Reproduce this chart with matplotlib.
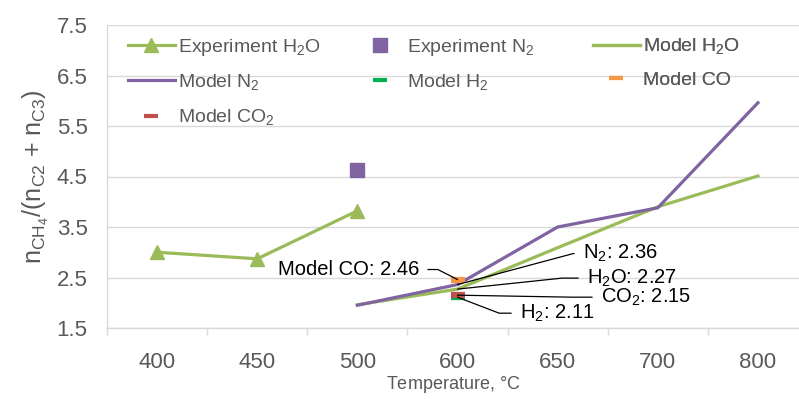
import numpy as np
import matplotlib
matplotlib.use("Agg")
import matplotlib.pyplot as plt
from matplotlib.ticker import FixedLocator

plt.rcParams['font.family'] = ['Liberation Sans', 'DejaVu Sans']
plt.rcParams['mathtext.fontset'] = 'custom'
plt.rcParams['mathtext.rm'] = 'Liberation Sans'

# Datos
temps = ['400', '450', '500', '600', '650', '700', '800']
exp_h2o = [3.00, 2.87, 3.82, None, None, None, None]
exp_n2 = [None, None, 4.63, None, None, None, None]
model_h2o = [None, None, 1.96, 2.27, 3.09, 3.90, 4.51]
model_n2 = [None, None, 1.95, 2.36, 3.50, 3.88, 5.96]
model_h2 = [None, None, None, 2.11, None, None, None]
model_co = [None, None, None, 2.46, None, None, None]
model_co2 = [None, None, None, 2.15, None, None, None]

verde = '#9BBB59'
morado = '#8064A2'
gris = '#595959'
rejilla = '#D9D9D9'

def serie(vals):
    return np.array([np.nan if v is None else v for v in vals], dtype=float)

x = np.arange(len(temps))

fig = plt.figure(figsize=(7.99, 3.99), dpi=100)
ax = fig.add_axes([107 / 799, 1 - 328 / 399, 692 / 799, 303 / 399])

l_exp_h2o, = ax.plot(x, serie(exp_h2o), color=verde, lw=2.3, marker='^', ms=10,
                     label=r'Experiment H$_2$O')
l_exp_n2, = ax.plot(x, serie(exp_n2), ls='none', color=morado, marker='s', ms=10,
                    label=r'Experiment N$_2$')
m = ~np.isnan(serie(model_h2o))
l_mod_h2o, = ax.plot(x[m], serie(model_h2o)[m], color=verde, lw=2.3, label=r'Model H$_2$O')
m = ~np.isnan(serie(model_n2))
l_mod_n2, = ax.plot(x[m], serie(model_n2)[m], color=morado, lw=2.3, label=r'Model N$_2$')
l_h2, = ax.plot(x, serie(model_h2), ls='none', marker='_', ms=10, mew=4.5,
                color='#00B050', label=r'Model H$_2$')
l_co, = ax.plot(x, serie(model_co), ls='none', marker='_', ms=10, mew=4.5,
                color='#F79646', label='Model CO')
l_co2, = ax.plot(x, serie(model_co2), ls='none', marker='_', ms=10, mew=4.5,
                 color='#C0504D', label=r'Model CO$_2$')

# Etiquetas con lineas guia en 600 C
i600 = temps.index('600')
etiquetas = [
    ('Model CO: 2.46', model_co[i600], (-38, 10), 'right', (1, 0.5), 153),
    (r'N$_2$: 2.36', model_n2[i600], (125, 31), 'left', (0, 0.5), 15),
    (r'H$_2$O: 2.27', model_h2o[i600], (129, 11), 'left', (0, 0.5), 6),
    (r'CO$_2$: 2.15', model_co2[i600], (143, -2), 'left', (0, 0.5), -1),
    (r'H$_2$: 2.11', model_h2[i600], (62, -16), 'left', (0, 0.5), -21),
]
for txt, val, off, ha, rel, ang in etiquetas:
    ax.annotate(txt, xy=(x[i600], val), xytext=off, textcoords='offset pixels',
                ha=ha, va='center', fontsize=14.5, color='black',
                arrowprops=dict(arrowstyle='-', color='black', lw=0.9, relpos=rel,
                                shrinkA=4, shrinkB=0,
                                connectionstyle=f'angle,angleA=0,angleB={ang},rad=0'))

ax.set_xlim(-0.5, 6.41)
ax.set_ylim(1.5, 7.5)
ax.set_yticks(np.arange(1.5, 7.6, 1.0))
ax.set_xticks(x)
ax.set_xticklabels(temps)
ax.xaxis.set_minor_locator(FixedLocator(np.arange(-0.5, 6.6, 1.0)))
ax.tick_params(axis='x', which='major', length=0, pad=17, labelsize=16, labelcolor=gris)
ax.tick_params(axis='x', which='minor', length=5, width=1, color=rejilla, direction='out')
ax.tick_params(axis='y', length=0, pad=14, labelsize=16, labelcolor=gris)
ax.grid(axis='y', color=rejilla, lw=1)
ax.set_axisbelow(True)
for s in ['top', 'right']:
    ax.spines[s].set_visible(False)
for s in ['left', 'bottom']:
    ax.spines[s].set_color(rejilla)
    ax.spines[s].set_linewidth(1)

ax.set_xlabel('Temperature, $\\degree$C', fontsize=13, color=gris, labelpad=1)
ax.set_ylabel(r'n$_{\mathregular{CH_4}}$/(n$_{\mathregular{C2}}$ + n$_{\mathregular{C3}}$)',
              fontsize=18, color=gris, labelpad=4)

# Leyenda: una caja por columna para fijar la posicion de cada una
columnas = [
    ([l_exp_h2o, l_mod_n2, l_co2], 128),
    ([l_exp_n2, l_h2], 357),
    ([l_mod_h2o, l_co], 593),
]
for hs, px in columnas:
    leg = ax.legend(handles=hs, labels=[h.get_label() for h in hs],
                    loc='upper left', bbox_to_anchor=((px - 107) / 692, 0.962),
                    frameon=False, fontsize=14, labelcolor=gris, handlelength=2.4,
                    handletextpad=0.15, labelspacing=0.76, borderpad=0, borderaxespad=0)
    for h in leg.legend_handles:
        if h.get_marker() == '_':
            h.set_markeredgewidth(3)
    ax.add_artist(leg)

fig.savefig('out.png', dpi=100)
